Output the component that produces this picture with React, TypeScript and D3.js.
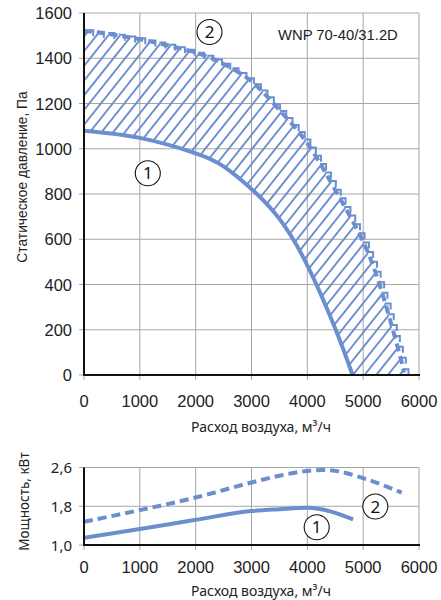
import React from "react";
import * as d3 from "d3";

// ---------- data ----------
const flowTicks = [0, 1000, 2000, 3000, 4000, 5000, 6000];
const pressureTicks = [0, 200, 400, 600, 800, 1000, 1200, 1400, 1600];
const powerTicks = [1.0, 1.8, 2.6];
const powerTickLabels = ["1,0", "1,8", "2,6"];

// Curve 1 (min) static pressure
const p1Flow = [0, 1000, 2000, 2500, 3000, 3500, 4000, 4500, 4810];
const p1Pa = [1080, 1048, 980, 922, 822, 690, 485, 205, 0];
// Curve 2 (max) static pressure
const p2Flow = [0, 1000, 2000, 2500, 3000, 3500, 4000, 4500, 5000, 5300, 5480, 5660, 5730];
const p2Pa = [1522, 1484, 1425, 1375, 1298, 1171, 1024, 818, 589, 395, 245, 85, 10];

// Power curves
const w1Flow = [0, 1000, 2000, 3000, 3500, 4000, 4820];
const w1Kw = [1.15, 1.33, 1.52, 1.70, 1.74, 1.77, 1.53];
const w2Flow = [0, 1000, 2000, 3000, 3500, 4000, 4300, 4500, 5000, 5690];
const w2Kw = [1.48, 1.72, 1.98, 2.29, 2.43, 2.53, 2.55, 2.53, 2.38, 2.08];

const modelName = "WNP 70-40/31.2D";
const xTitle = "Расход воздуха, м³/ч";
const yTitleTop = "Статическое давление, Па";
const yTitleBottom = "Мощность, кВт";

// ---------- styles ----------
const BLUE = "#6b8ecf";
const GRID = "#a6a6a6";
const ARIAL = "'Liberation Sans', Arial, sans-serif";
const MYRIAD = "'Noto Sans', sans-serif";

type P = [number, number];

// sample a d3 curve into a polyline (for hatch/hook geometry)
function sampleCurve(pts: P[], curve: d3.CurveFactory): P[] {
  const out: P[] = [];
  let cx = 0, cy = 0;
  const ctx: any = {
    moveTo(x: number, y: number) { out.push([x, y]); cx = x; cy = y; },
    lineTo(x: number, y: number) { out.push([x, y]); cx = x; cy = y; },
    bezierCurveTo(x1: number, y1: number, x2: number, y2: number, x: number, y: number) {
      for (let i = 1; i <= 24; i++) {
        const t = i / 24, m = 1 - t;
        out.push([
          m * m * m * cx + 3 * m * m * t * x1 + 3 * m * t * t * x2 + t * t * t * x,
          m * m * m * cy + 3 * m * m * t * y1 + 3 * m * t * t * y2 + t * t * t * y,
        ]);
      }
      cx = x; cy = y;
    },
    quadraticCurveTo(x1: number, y1: number, x: number, y: number) {
      for (let i = 1; i <= 24; i++) {
        const t = i / 24, m = 1 - t;
        out.push([m * m * cx + 2 * m * t * x1 + t * t * x, m * m * cy + 2 * m * t * y1 + t * t * y]);
      }
      cx = x; cy = y;
    },
    closePath() {},
  };
  d3.line<P>().x(d => d[0]).y(d => d[1]).curve(curve).context(ctx)(pts);
  return out;
}

export default function App() {
  const W = 441, H = 600;
  const x = d3.scaleLinear().domain([0, 6000]).range([84, 419]);
  const yT = d3.scaleLinear().domain([0, 1600]).range([375, 13]);
  const yB = d3.scaleLinear().domain([1.0, 2.6]).range([545, 467.5]);

  const pts = (xs: number[], ys: number[]) => xs.map((v, i) => [v, ys[i]] as P);
  const c1px: P[] = pts(p1Flow, p1Pa).map(d => [x(d[0]), yT(d[1])]);
  const c2px: P[] = pts(p2Flow, p2Pa).map(d => [x(d[0]), yT(d[1])]);
  const curve = d3.curveNatural;
  const linePx = d3.line<P>().x(d => d[0]).y(d => d[1]).curve(curve);

  const s1 = sampleCurve(c1px, curve);
  const s2 = sampleCurve(c2px, curve);
  const y0 = yT(0);
  const regionPts: P[] = [
    ...s2,
    [s2[s2.length - 1][0], y0],
    [s1[s1.length - 1][0], y0],
    ...[...s1].reverse(),
  ];
  const regionPath = d3.line<P>()(regionPts) + "Z";

  // hatch: lines u = px + k*py
  const hSp = 11.7, vSp = 14.7;
  const k = hSp / vSp;
  const uStart = 7.8;
  const hatch: number[] = [];
  for (let u = uStart; u < 419 + 375 * k + hSp; u += hSp) hatch.push(u);

  // hooks where hatch lines meet curve 2
  const uOf = (p: P) => p[0] + k * p[1];
  const hooks: P[] = [];
  hatch.forEach(u => {
    for (let i = 1; i < s2.length; i++) {
      const a = uOf(s2[i - 1]), b = uOf(s2[i]);
      if ((a <= u && u < b)) {
        const t = (u - a) / (b - a);
        hooks.push([s2[i - 1][0] + t * (s2[i][0] - s2[i - 1][0]), s2[i - 1][1] + t * (s2[i][1] - s2[i - 1][1])]);
        break;
      }
    }
  });

  const w1 = pts(w1Flow, w1Kw).map(d => [x(d[0]), yB(d[1])] as P);
  const w2 = pts(w2Flow, w2Kw).map(d => [x(d[0]), yB(d[1])] as P);
  const lineB = d3.line<P>().x(d => d[0]).y(d => d[1]).curve(d3.curveMonotoneX);

  const circle = (cx: number, cy: number, label: string, key: string) => (
    <g key={key}>
      <circle cx={cx} cy={cy} r={12.5} fill="white" stroke="#111" strokeWidth={1.1} />
      <text x={cx} y={cy + 6} textAnchor="middle" fontFamily={MYRIAD} fontSize={17} fill="#111">{label}</text>
    </g>
  );

  return (
    <svg width={W} height={H} style={{ position: "absolute", left: 0, top: 0, background: "white" }}>
      <defs>
        <clipPath id="region">
          <path d={regionPath} />
        </clipPath>
      </defs>
      <rect x={0} y={0} width={W} height={H} fill="white" />

      {/* ===== TOP CHART ===== */}
      {flowTicks.map(t => (
        <line key={"gx" + t} x1={x(t)} x2={x(t)} y1={yT(1600)} y2={yT(0) + 5} stroke={GRID} strokeWidth={1} />
      ))}
      {pressureTicks.map(t => (
        <line key={"gy" + t} x1={x(0) - 5} x2={x(6000)} y1={yT(t)} y2={yT(t)} stroke={GRID} strokeWidth={1} />
      ))}
      <g clipPath="url(#region)">
        {hatch.map(u => (
          <line key={"h" + u} x1={u - k * 0} y1={0} x2={u - k * 400} y2={400} stroke={BLUE} strokeWidth={1.9} />
        ))}
      </g>
      {hooks.map((h, i) => (
        <path key={"hk" + i} d={`M${h[0] - 1},${h[1] - 1}H${h[0] + 5}V${h[1] + 5}`} fill="none" stroke={BLUE} strokeWidth={2} />
      ))}
      <path d={linePx(c1px) as string} fill="none" stroke={BLUE} strokeWidth={4} />
      <path d={linePx(c2px) as string} fill="none" stroke={BLUE} strokeWidth={4} strokeDasharray="8 5" />
      <line x1={x(0)} x2={x(0)} y1={yT(1600)} y2={yT(0) + 1} stroke="#111" strokeWidth={2} />
      <line x1={x(0) - 1} x2={x(6000) + 1} y1={yT(0)} y2={yT(0)} stroke="#111" strokeWidth={2} />

      {pressureTicks.map(t => (
        <text key={"ly" + t} x={72} y={yT(t) + 6} textAnchor="end" fontFamily={ARIAL} fontSize={16.5} fill="#222">{t}</text>
      ))}
      {flowTicks.map(t => (
        <text key={"lx" + t} x={x(t)} y={407} textAnchor="middle" fontFamily={ARIAL} fontSize={16.5} fill="#222">{t}</text>
      ))}
      <text x={261} y={432} textAnchor="middle" fontFamily={MYRIAD} fontSize={14} fill="#222">{xTitle}</text>
      <text transform={`translate(27,177) rotate(-90)`} textAnchor="middle" fontFamily={ARIAL} fontSize={13.8} fill="#222">{yTitleTop}</text>
      <text x={278} y={39.5} fontFamily={ARIAL} fontSize={14.8} fill="#222">{modelName}</text>
      {circle(209.5, 32, "2", "c2")}
      {circle(147.8, 173.3, "1", "c1")}

      {/* ===== BOTTOM CHART ===== */}
      {flowTicks.map(t => (
        <line key={"bgx" + t} x1={x(t)} x2={x(t)} y1={yB(2.6)} y2={yB(1.0) + 5} stroke={GRID} strokeWidth={1} />
      ))}
      {powerTicks.map(t => (
        <line key={"bgy" + t} x1={x(0) - 5} x2={x(6000)} y1={yB(t)} y2={yB(t)} stroke={GRID} strokeWidth={1} />
      ))}
      <path d={lineB(w1) as string} fill="none" stroke={BLUE} strokeWidth={4} />
      <path d={lineB(w2) as string} fill="none" stroke={BLUE} strokeWidth={4} strokeDasharray="9 5" />
      <line x1={x(0)} x2={x(0)} y1={yB(2.6)} y2={yB(1.0) + 1} stroke="#111" strokeWidth={2} />
      <line x1={x(0) - 1} x2={x(6000) + 1} y1={yB(1.0)} y2={yB(1.0)} stroke="#111" strokeWidth={2} />
      {powerTicks.map((t, i) => (
        <text key={"bly" + t} x={72} y={yB(t) + 5.5} textAnchor="end" fontFamily={MYRIAD} fontSize={15} fill="#222">{powerTickLabels[i]}</text>
      ))}
      {flowTicks.map(t => (
        <text key={"blx" + t} x={x(t)} y={573} textAnchor="middle" fontFamily={ARIAL} fontSize={16.5} fill="#222">{t}</text>
      ))}
      <text x={261} y={595.5} textAnchor="middle" fontFamily={MYRIAD} fontSize={14} fill="#222">{xTitle}</text>
      <text transform={`translate(29,501.5) rotate(-90)`} textAnchor="middle" fontFamily={MYRIAD} fontSize={13.5} fill="#222">{yTitleBottom}</text>
      {circle(316.7, 527.3, "1", "b1")}
      {circle(375.3, 506.5, "2", "b2")}
    </svg>
  );
}
